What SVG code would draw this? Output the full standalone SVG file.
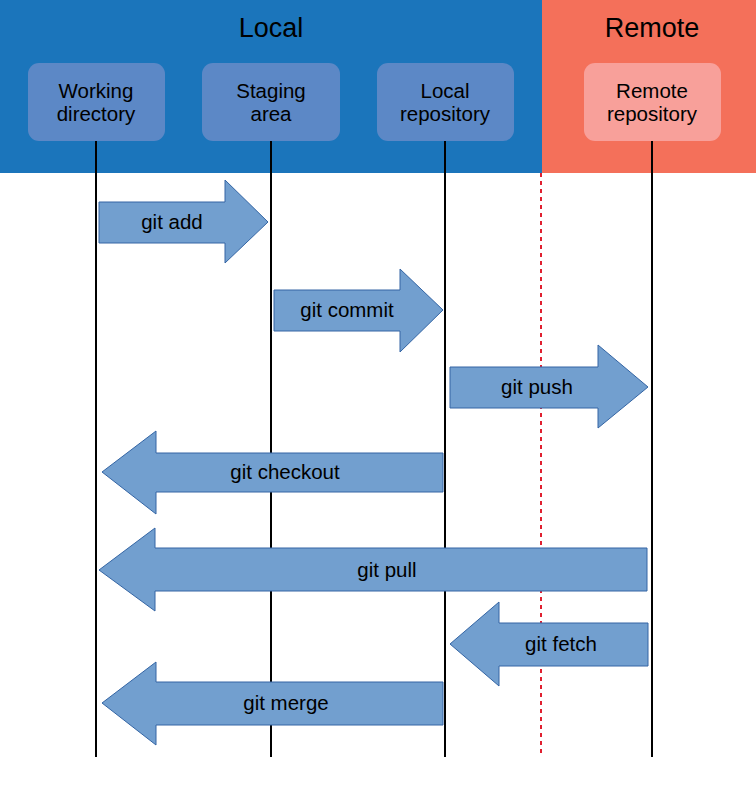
<svg xmlns="http://www.w3.org/2000/svg" width="756" height="794" viewBox="0 0 756 794">
<style>
text{font-family:"Liberation Sans",Arial,sans-serif;fill:#000;text-anchor:middle}
.title{font-size:27px}
.lbl{font-size:20.5px}
.node{fill:#5c88c6}
.rnode{fill:#f8a09a}
.life{stroke:#000;stroke-width:2;fill:none}
.arr{fill:#729fcf;stroke:#3465a4;stroke-width:1}
</style>
<rect x="0" y="0" width="542" height="173" fill="#1b75bb"/>
<rect x="542" y="0" width="214" height="173" fill="#f4705a"/>
<text class="title" x="271" y="37">Local</text>
<text class="title" x="652" y="37">Remote</text>
<g id="lifelines">
<line class="life" x1="96" y1="141" x2="96" y2="757"/>
<line class="life" x1="271" y1="141" x2="271" y2="757"/>
<line class="life" x1="445" y1="141" x2="445" y2="757"/>
<line class="life" x1="652" y1="141" x2="652" y2="757"/>
<line x1="541" y1="173" x2="541" y2="757" stroke="#e02030" stroke-width="2" stroke-dasharray="4,4"/>
</g>
<g id="working">
<rect class="node" x="28" y="63" width="137" height="78" rx="11"/>
<text class="lbl" x="96" y="98">Working</text>
<text class="lbl" x="96" y="121">directory</text>
</g>
<g id="staging">
<rect class="node" x="202" y="63" width="138" height="78" rx="11"/>
<text class="lbl" x="271" y="98">Staging</text>
<text class="lbl" x="271" y="121">area</text>
</g>
<g id="localrepo">
<rect class="node" x="377" y="63" width="137" height="78" rx="11"/>
<text class="lbl" x="445" y="98">Local</text>
<text class="lbl" x="445" y="121">repository</text>
</g>
<g id="remoterepo">
<rect class="rnode" x="584" y="63" width="137" height="78" rx="11"/>
<text class="lbl" x="652" y="98">Remote</text>
<text class="lbl" x="652" y="121">repository</text>
</g>
<g id="connectors">
<g id="add">
<polygon class="arr" points="99,202 225,202 225,180 268,222 225,263 225,243 99,243"/>
<text class="lbl" x="172" y="229">git add</text>
</g>
<g id="commit">
<polygon class="arr" points="274,290 400,290 400,269 443,310 400,352 400,331 274,331"/>
<text class="lbl" x="347" y="317">git commit</text>
</g>
<g id="push">
<polygon class="arr" points="450,367 598,367 598,345 648,387 598,428 598,408 450,408"/>
<text class="lbl" x="537" y="394">git push</text>
</g>
<g id="checkout">
<polygon class="arr" points="443,453 156,453 156,431 102,472 156,514 156,492 443,492"/>
<text class="lbl" x="285" y="479">git checkout</text>
</g>
<g id="pull">
<polygon class="arr" points="647,548 155,548 155,528 99,570 155,611 155,591 647,591"/>
<text class="lbl" x="387" y="577">git pull</text>
</g>
<g id="fetch">
<polygon class="arr" points="648,623 499,623 499,602 450,644 499,686 499,666 648,666"/>
<text class="lbl" x="561" y="651">git fetch</text>
</g>
<g id="merge">
<polygon class="arr" points="443,682 156,682 156,662 102,703 156,745 156,725 443,725"/>
<text class="lbl" x="286" y="710">git merge</text>
</g>
</g>
</svg>
